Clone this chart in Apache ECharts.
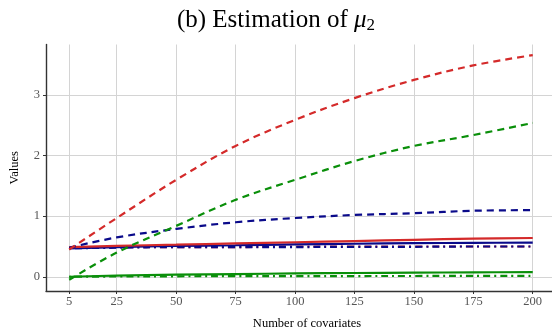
<!DOCTYPE html>
<html>
<head>
<meta charset="utf-8">
<script src="https://cdn.jsdelivr.net/npm/echarts@6/dist/echarts.min.js"></script>
<style>
  html, body { margin: 0; padding: 0; background: #fff; }
  #chart { width: 552px; height: 335px; }
</style>
</head>
<body>
<div id="chart"></div>
<script>
// number of covariates
const covariates = [5, 25, 50, 75, 100, 125, 150, 175, 200]
const xTicks = [5, 25, 50, 75, 100, 125, 150, 175, 200]
const yTicks = [0, 1, 2, 3]

// red group
const redDashed = [0.45, 0.97, 1.6, 2.16, 2.59, 2.95, 3.25, 3.49, 3.66]
const redSolid = [0.49, 0.51, 0.53, 0.55, 0.57, 0.59, 0.61, 0.63, 0.64]
const redDotdash = [0.48, 0.49, 0.49, 0.49, 0.5, 0.5, 0.5, 0.5, 0.5]
// green group
const greenDashed = [-0.05, 0.4, 0.84, 1.27, 1.6, 1.91, 2.16, 2.34, 2.54]
const greenSolid = [0.0, 0.02, 0.035, 0.045, 0.055, 0.062, 0.068, 0.073, 0.077]
const greenDotdash = [0.0, 0.005, 0.008, 0.01, 0.01, 0.012, 0.013, 0.014, 0.015]
// navy group
const navyDashed = [0.48, 0.65, 0.79, 0.9, 0.97, 1.02, 1.05, 1.09, 1.1]
const navySolid = [0.47, 0.49, 0.51, 0.52, 0.535, 0.545, 0.555, 0.56, 0.565]
const navyDotdash = [0.47, 0.48, 0.49, 0.49, 0.49, 0.495, 0.495, 0.5, 0.5]

const RED = '#d42a2a'
const GREEN = '#0a8f0a'
const NAVY = '#0a0a8a'
const DASH = [7, 5]
const DOTDASH = [2, 4, 7, 4]

function pairs (ys) {
  return covariates.map((x, i) => [x, ys[i]])
}

function line (name, ys, color, type) {
  return {
    name: name,
    type: 'line',
    data: pairs(ys),
    smooth: 0.35,
    symbol: 'none',
    lineStyle: { color: color, width: 2.2, type: type },
    z: 3
  }
}

let myChart = echarts.init(document.getElementById('chart'), null, { renderer: 'canvas' })
myChart.setOption({
  animation: false,
  title: {
    text: '(b) Estimation of {i|μ}{s|2}',
    left: 'center',
    top: 1,
    textStyle: {
      fontFamily: 'Liberation Serif',
      fontWeight: 'normal',
      fontSize: 25,
      color: '#000',
      rich: {
        i: { fontFamily: 'Liberation Serif', fontStyle: 'italic', fontSize: 25, color: '#000' },
        s: { fontFamily: 'Liberation Serif', fontSize: 17, color: '#000', padding: [11, 0, 0, 0] }
      }
    }
  },
  grid: {
    left: 45,
    right: 0,
    top: 44.5,
    bottom: 43.3
  },
  xAxis: {
    type: 'value',
    min: -4.75,
    max: 208.1,
    name: 'Number of covariates',
    nameLocation: 'middle',
    nameGap: 26,
    nameTextStyle: { fontFamily: 'Liberation Serif', fontSize: 12.5, color: '#000', padding: [0, 0, 0, 16] },
    axisLine: { onZero: false, lineStyle: { color: '#333', width: 1.4 } },
    axisTick: { customValues: xTicks, length: 3, lineStyle: { color: '#333' } },
    axisLabel: { customValues: xTicks, fontFamily: 'Liberation Serif', fontSize: 12.5, color: '#555', margin: 4 },
    splitLine: { show: true, lineStyle: { color: '#d4d4d4', width: 1 } }
  },
  yAxis: {
    type: 'value',
    min: -0.235,
    max: 3.835,
    name: 'Values',
    nameLocation: 'middle',
    nameGap: 25,
    nameTextStyle: { fontFamily: 'Liberation Serif', fontSize: 12.5, color: '#000' },
    axisLine: { show: true, onZero: false, lineStyle: { color: '#333', width: 1.4 } },
    axisTick: { show: true, customValues: yTicks, length: 3, lineStyle: { color: '#333' } },
    axisLabel: { customValues: yTicks, fontFamily: 'Liberation Serif', fontSize: 12.5, color: '#555', margin: 6 },
    splitLine: { show: true, lineStyle: { color: '#d4d4d4', width: 1 } }
  },
  series: [
    line('red dotdash', redDotdash, RED, DOTDASH),
    line('navy dotdash', navyDotdash, NAVY, DOTDASH),
    line('green dotdash', greenDotdash, GREEN, DOTDASH),
    line('green solid', greenSolid, GREEN, 'solid'),
    line('navy solid', navySolid, NAVY, 'solid'),
    line('red solid', redSolid, RED, 'solid'),
    line('navy dashed', navyDashed, NAVY, DASH),
    line('green dashed', greenDashed, GREEN, DASH),
    line('red dashed', redDashed, RED, DASH)
  ]
})
</script>
</body>
</html>
